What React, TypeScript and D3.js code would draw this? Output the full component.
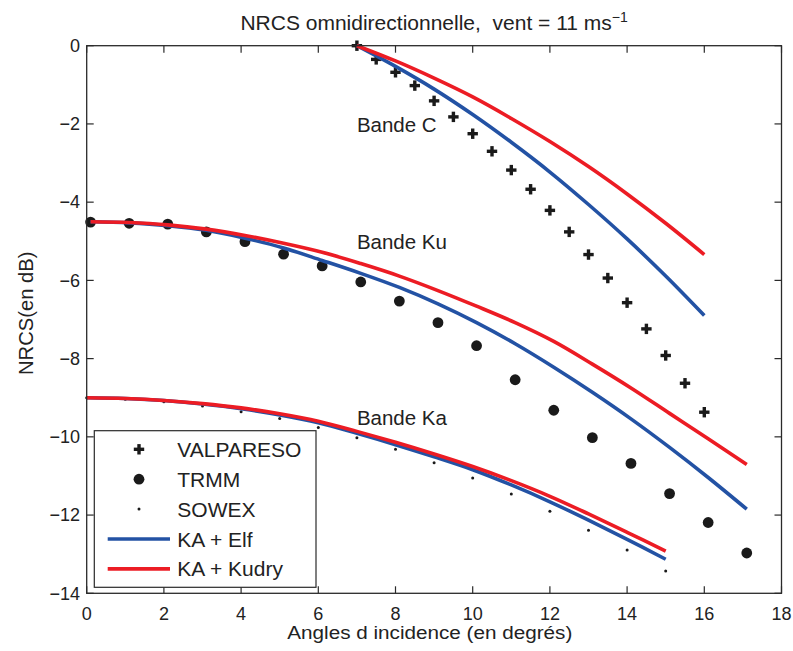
import React from 'react';
import * as d3 from 'd3';

// ---------- data ----------
const xTicks = [0, 2, 4, 6, 8, 10, 12, 14, 16, 18];
const yTicks = [0, -2, -4, -6, -8, -10, -12, -14];

// VALPARESO (Bande C)
const valparesoAngles = [7, 7.5, 8, 8.5, 9, 9.5, 10, 10.5, 11, 11.5, 12, 12.5, 13, 13.5, 14, 14.5, 15, 15.5, 16];
const valparesoNrcs = [0, -0.35, -0.68, -1.02, -1.41, -1.82, -2.25, -2.7, -3.18, -3.67, -4.21, -4.76, -5.34, -5.94, -6.57, -7.24, -7.92, -8.63, -9.37];

// TRMM (Bande Ku)
const trmmAngles = [0.1, 1.1, 2.1, 3.1, 4.1, 5.1, 6.1, 7.1, 8.1, 9.1, 10.1, 11.1, 12.1, 13.1, 14.1, 15.1, 16.1, 17.1];
const trmmNrcs = [-4.51, -4.54, -4.56, -4.76, -5.01, -5.33, -5.63, -6.04, -6.53, -7.08, -7.67, -8.54, -9.32, -10.02, -10.68, -11.45, -12.19, -12.97];

// SOWEX (Bande Ka)
const sowexAngles = [0, 1, 2, 3, 4, 5, 6, 7, 8, 9, 10, 11, 12, 13, 14, 15];
const sowexNrcs = [-9.0, -9.04, -9.1, -9.21, -9.36, -9.53, -9.76, -10.02, -10.32, -10.66, -11.05, -11.46, -11.9, -12.39, -12.89, -13.43];

// Models, Bande C
const cAngles = [7, 8, 9, 10, 11, 12, 13, 14, 15, 16];
const cElf = [0, -0.53, -1.11, -1.76, -2.47, -3.23, -4.06, -4.94, -5.89, -6.9];
const cKudry = [0, -0.39, -0.83, -1.31, -1.86, -2.45, -3.09, -3.79, -4.54, -5.34];

// Models, Bande Ku
const kuAngles = trmmAngles;
const kuElf = [-4.5, -4.53, -4.6, -4.72, -4.92, -5.17, -5.49, -5.82, -6.18, -6.6, -7.08, -7.62, -8.22, -8.86, -9.54, -10.27, -11.04, -11.85];
const kuKudry = [-4.5, -4.52, -4.58, -4.69, -4.85, -5.05, -5.28, -5.57, -5.89, -6.26, -6.66, -7.08, -7.56, -8.14, -8.75, -9.4, -10.05, -10.71];

// Models, Bande Ka
const kaAngles = [0, 1, 2, 3, 4, 5, 6, 7, 8, 9, 10, 11, 12, 13, 14, 15];
const kaElf = [-9.0, -9.02, -9.07, -9.16, -9.28, -9.44, -9.64, -9.91, -10.2, -10.51, -10.84, -11.23, -11.66, -12.13, -12.62, -13.13];
const kaKudry = [-9.0, -9.02, -9.07, -9.15, -9.26, -9.41, -9.6, -9.86, -10.14, -10.44, -10.76, -11.12, -11.52, -11.97, -12.44, -12.92];

const bandNames = ['Bande C', 'Bande Ku', 'Bande Ka'];
const bandAnchorX = [7, 7, 7];
const bandAnchorY = [-2.2, -5.21, -9.7];

const legendNames = ['VALPARESO', 'TRMM', 'SOWEX', 'KA + Elf', 'KA + Kudry'];

// ---------- styles ----------
const W = 793;
const H = 651;
const FONT = '"Liberation Sans", Arial, Helvetica, sans-serif';
const TEXT = '#222';
const AXIS = '#2a2a2a';
const BLUE = '#2352a4';
const RED = '#ec1c24';
const LW = 3.6;

const x = d3.scaleLinear().domain([0, 18]).range([86.7, 781.5]);
const y = d3.scaleLinear().domain([-14, 0]).range([593.3, 45.7]);

const zip = (a: number[], b: number[]) => a.map((v, i) => [v, b[i]] as [number, number]);
const lineGen = d3
  .line<[number, number]>()
  .x((d) => x(d[0]))
  .y((d) => y(d[1]))
  .curve(d3.curveCatmullRom.alpha(0.5));

const Plus = ({ cx, cy, s = 5.2, w = 3.4 }: { cx: number; cy: number; s?: number; w?: number }) => (
  <g fill="#1a1a1a">
    <rect x={cx - s} y={cy - w / 2} width={2 * s} height={w} />
    <rect x={cx - w / 2} y={cy - s} width={w} height={2 * s} />
  </g>
);

export default function App() {
  const [x0, x1] = x.range();
  const [y0, y1] = y.range();
  const tick = 7;

  const elfSeries = [zip(cAngles, cElf), zip(kuAngles, kuElf), zip(kaAngles, kaElf)];
  const kudrySeries = [zip(cAngles, cKudry), zip(kuAngles, kuKudry), zip(kaAngles, kaKudry)];

  // legend
  const lgX = 94.3;
  const lgY = 430.7;
  const lgW = 221.7;
  const lgH = 156.6;
  const rowY = (i: number) => 449.3 + i * 29.9;

  return (
    <svg
      width={W}
      height={H}
      viewBox={`0 0 ${W} ${H}`}
      style={{ position: 'absolute', left: 0, top: 0, background: '#fff' }}
      fontFamily={FONT}
    >
      <rect x={0} y={0} width={W} height={H} fill="#fff" />

      {/* title */}
      <text x={(x0 + x1) / 2} y={29.5} textAnchor="middle" fontSize={21} fill={TEXT} style={{ whiteSpace: 'pre' }}>
        {'NRCS omnidirectionnelle,  vent = 11 ms'}
        <tspan fontSize={14} dy={-8}>
          −1
        </tspan>
      </text>

      {/* markers */}
      {sowexAngles.map((a, i) => (
        <circle key={'s' + i} cx={x(a)} cy={y(sowexNrcs[i])} r={1.5} fill="#1a1a1a" />
      ))}
      {trmmAngles.map((a, i) => (
        <circle key={'t' + i} cx={x(a)} cy={y(trmmNrcs[i])} r={5.4} fill="#1a1a1a" />
      ))}
      {valparesoAngles.map((a, i) => (
        <Plus key={'v' + i} cx={x(a)} cy={y(valparesoNrcs[i])} />
      ))}

      {/* model lines */}
      {elfSeries.map((s, i) => (
        <path key={'e' + i} d={lineGen(s) || ''} fill="none" stroke={BLUE} strokeWidth={LW} />
      ))}
      {kudrySeries.map((s, i) => (
        <path key={'k' + i} d={lineGen(s) || ''} fill="none" stroke={RED} strokeWidth={LW} />
      ))}

      {/* band labels */}
      {bandNames.map((n, i) => (
        <text key={n} x={x(bandAnchorX[i])} y={y(bandAnchorY[i])} fontSize={20.5} fill={TEXT}>
          {n}
        </text>
      ))}

      {/* axes box */}
      <rect x={x0} y={y1} width={x1 - x0} height={y0 - y1} fill="none" stroke={AXIS} strokeWidth={1.3} />
      {xTicks.map((t) => (
        <g key={'xt' + t}>
          <line x1={x(t)} x2={x(t)} y1={y0} y2={y0 - tick} stroke={AXIS} strokeWidth={1.2} />
          <line x1={x(t)} x2={x(t)} y1={y1} y2={y1 + tick} stroke={AXIS} strokeWidth={1.2} />
          <text x={x(t)} y={619.5} textAnchor="middle" fontSize={18} fill={TEXT}>
            {String(t)}
          </text>
        </g>
      ))}
      {yTicks.map((t) => (
        <g key={'yt' + t}>
          <line x1={x0} x2={x0 + tick} y1={y(t)} y2={y(t)} stroke={AXIS} strokeWidth={1.2} />
          <line x1={x1} x2={x1 - tick} y1={y(t)} y2={y(t)} stroke={AXIS} strokeWidth={1.2} />
          <text x={80} y={y(t)} dy="0.35em" textAnchor="end" fontSize={18} fill={TEXT}>
            {t < 0 ? '−' + Math.abs(t) : String(t)}
          </text>
        </g>
      ))}

      {/* axis labels */}
      <text
        x={287.3}
        y={638.6}
        fontSize={17.6}
        fill={TEXT}
        textLength={285}
        lengthAdjust="spacingAndGlyphs"
      >
        Angles d incidence (en degrés)
      </text>
      <text
        transform={`translate(32.5, ${313.3}) rotate(-90)`}
        textAnchor="middle"
        fontSize={20.2}
        fill={TEXT}
      >
        NRCS(en dB)
      </text>

      {/* legend */}
      <rect x={lgX} y={lgY} width={lgW} height={lgH} fill="#fff" stroke={AXIS} strokeWidth={1.2} />
      <Plus cx={139} cy={rowY(0)} />
      <circle cx={139} cy={rowY(1)} r={5.4} fill="#1a1a1a" />
      <circle cx={139} cy={rowY(2)} r={1.5} fill="#1a1a1a" />
      <line x1={107.7} x2={170} y1={rowY(3)} y2={rowY(3)} stroke={BLUE} strokeWidth={LW} />
      <line x1={107.7} x2={170} y1={rowY(4)} y2={rowY(4)} stroke={RED} strokeWidth={LW} />
      {legendNames.map((n, i) => (
        <text key={n} x={177.3} y={rowY(i)} dy="0.36em" fontSize={21} fill={TEXT}>
          {n}
        </text>
      ))}
    </svg>
  );
}
